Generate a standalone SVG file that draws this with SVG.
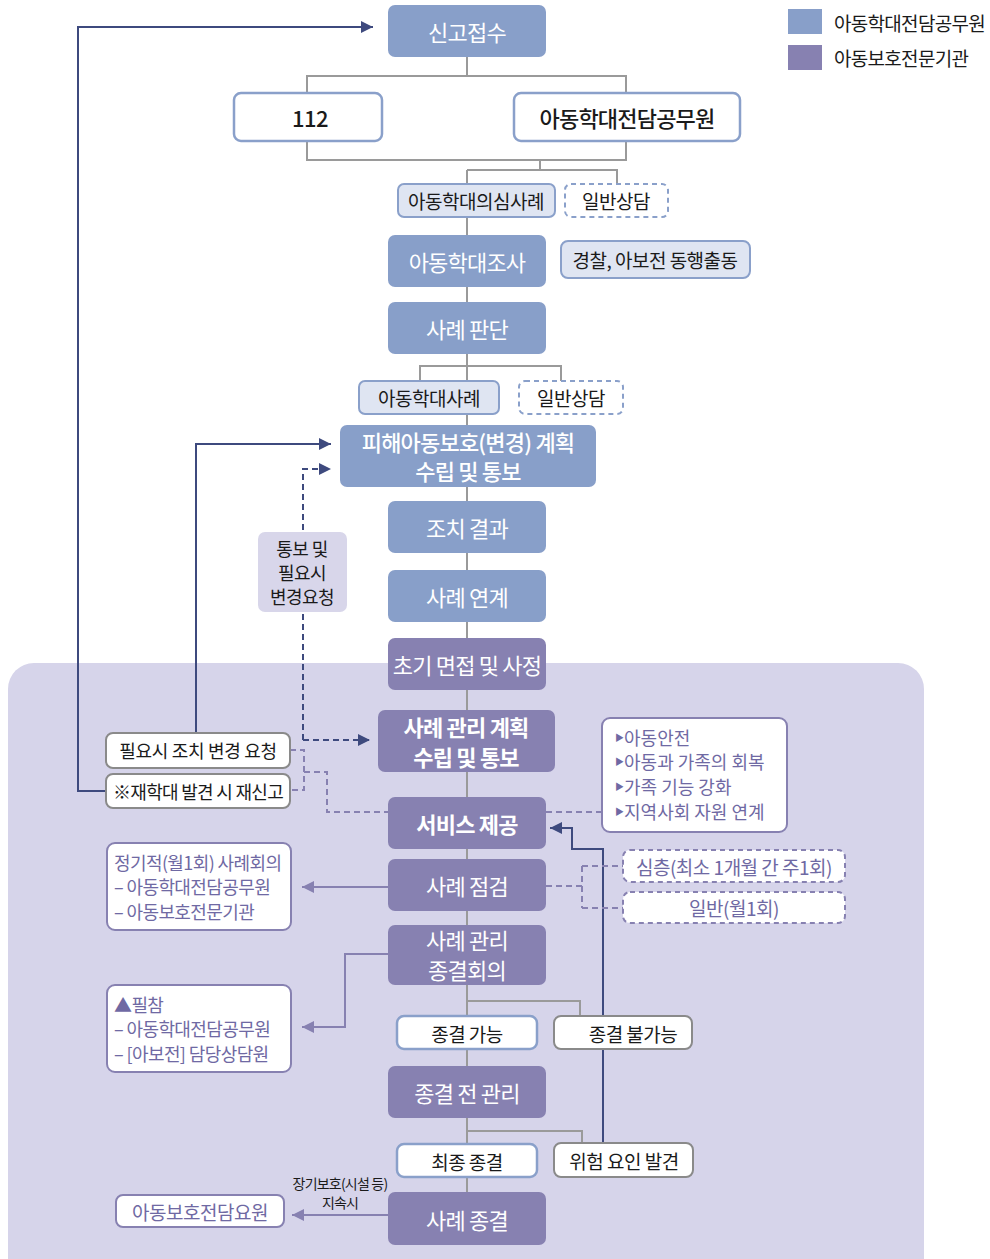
<svg xmlns="http://www.w3.org/2000/svg" width="990" height="1259" viewBox="0 0 990 1259">
<defs>
<style>
text{font-family:"Noto Sans CJK KR","Noto Sans",sans-serif;letter-spacing:-0.5px}
.nb{fill:#889fc9}
.np{fill:#8781b1}
.wt{fill:#fff;font-size:22px;letter-spacing:-0.8px;text-anchor:middle;dominant-baseline:central}
.bk{fill:#1a1a1a;font-size:19px;text-anchor:middle;dominant-baseline:central}
.pt{fill:#6f69a3;font-size:18px;letter-spacing:-0.6px;dominant-baseline:central}
.bu{font-size:9px}
.lb{fill:#dfe5f2;stroke:#8aa0ca;stroke-width:2}
.wb{fill:#fff;stroke:#8aa0ca;stroke-width:2.5}
.wbd{fill:#fff;stroke:#8aa0ca;stroke-width:2;stroke-dasharray:5 4}
.wg{fill:#fff;stroke:#8a8a8a;stroke-width:2}
.wp{fill:#fff;stroke:#8781b1;stroke-width:2}
.wpd{fill:#fff;stroke:#8781b1;stroke-width:2;stroke-dasharray:5 4}
.gl{fill:none;stroke:#9a9a9a;stroke-width:2}
.nv{fill:none;stroke:#3e4a7e;stroke-width:2}
.nvd{fill:none;stroke:#3e4a7e;stroke-width:2;stroke-dasharray:6 4}
.pl{fill:none;stroke:#8781b1;stroke-width:2}
.pld{fill:none;stroke:#8781b1;stroke-width:2;stroke-dasharray:6 4}
</style>
<marker id="an" viewBox="0 0 10 10" refX="10" refY="5" markerWidth="6" markerHeight="6" orient="auto" markerUnits="strokeWidth"><path d="M0,0 L10,5 L0,10 z" fill="#3e4a7e"/></marker>
<marker id="ap" viewBox="0 0 10 10" refX="10" refY="5" markerWidth="6" markerHeight="6" orient="auto" markerUnits="strokeWidth"><path d="M0,0 L10,5 L0,10 z" fill="#8781b1"/></marker>
</defs>

<rect x="8" y="663" width="916" height="640" rx="26" fill="#d6d4ea"/>

<g id="legend">
<rect x="788" y="9" width="34" height="25" fill="#889fc9"/>
<text x="834" y="22" style="fill:#1a1a1a;font-size:19px;letter-spacing:-0.7px;dominant-baseline:central">아동학대전담공무원</text>
<rect x="788" y="45" width="34" height="25" fill="#8781b1"/>
<text x="834" y="57" style="fill:#1a1a1a;font-size:19px;letter-spacing:-0.7px;dominant-baseline:central">아동보호전문기관</text>
</g>

<g id="connectors">
<path class="gl" d="M467,57 V76 M307,93 V76 H626 V93 M307,141 V160 H626 V141 M540,160 V170 M467,170 H617 V184 M467,170 V1192"/>
<path class="gl" d="M467,354 V366 M420,381 V366 H561 V381"/>
<path class="gl" d="M467,1001 H580 V1016 M467,1131 H582 V1143"/>
<path class="nv" d="M603,1143 V849 H572 V828 H550" marker-end="url(#an)"/>
<path class="nv" d="M106,791 H78 V27 H373" marker-end="url(#an)"/>
<path class="nv" d="M196,733 V444 H331" marker-end="url(#an)"/>
<path class="nvd" d="M303,740 V469 H331" marker-end="url(#an)"/>
<path class="nvd" d="M303,740 H370" marker-end="url(#an)"/>
<path class="pld" d="M290,750 H304 V790 H290 M304,772 H327 V812 H388"/>
<path class="pld" d="M546,812 H602"/>
<path class="pld" d="M546,886 H582 M582,866 V908 M582,866 H623 M582,908 H623"/>
<path class="pl" d="M388,887 H302" marker-end="url(#ap)"/>
<path class="pl" d="M388,954 H345 V1027 H302" marker-end="url(#ap)"/>
<path class="pl" d="M388,1215 H292" marker-end="url(#ap)"/>
</g>

<g id="n-singo"><rect class="nb" x="388" y="5" width="158" height="52" rx="7"/><text class="wt" x="467" y="31">신고접수</text></g>
<g id="n-112"><rect class="wb" x="234" y="93" width="148" height="48" rx="7"/><text class="bk" x="310" y="117" style="font-size:22px;font-weight:500">112</text></g>
<g id="n-gongmu"><rect class="wb" x="514" y="93" width="226" height="48" rx="7"/><text class="bk" x="627" y="117" style="font-size:22px;letter-spacing:-0.8px;font-weight:500">아동학대전담공무원</text></g>
<g id="n-uisim"><rect class="lb" x="398" y="184" width="157" height="33" rx="6"/><text class="bk" x="476" y="200">아동학대의심사례</text></g>
<g id="n-ilban1"><rect class="wbd" x="565" y="184" width="103" height="33" rx="6"/><text class="bk" x="616" y="200">일반상담</text></g>
<g id="n-josa"><rect class="nb" x="388" y="235" width="158" height="52" rx="7"/><text class="wt" x="467" y="261">아동학대조사</text></g>
<g id="n-police"><rect class="lb" x="561" y="241" width="189" height="37" rx="7"/><text class="bk" x="655" y="259">경찰, 아보전 동행출동</text></g>
<g id="n-pandan"><rect class="nb" x="388" y="302" width="158" height="52" rx="7"/><text class="wt" x="467" y="328">사례 판단</text></g>
<g id="n-hakdae"><rect class="lb" x="359" y="381" width="140" height="33" rx="6"/><text class="bk" x="429" y="397">아동학대사례</text></g>
<g id="n-ilban2"><rect class="wbd" x="519" y="381" width="104" height="33" rx="6"/><text class="bk" x="571" y="397">일반상담</text></g>
<g id="n-plan1"><rect class="nb" x="340" y="425" width="256" height="62" rx="7"/><text class="wt" x="468" y="441" style="font-weight:500">피해아동보호(변경) 계획</text><text class="wt" x="468" y="470" style="font-weight:500">수립 및 통보</text></g>
<g id="n-jochi"><rect class="nb" x="388" y="501" width="158" height="52" rx="7"/><text class="wt" x="467" y="527">조치 결과</text></g>
<g id="n-yeongye"><rect class="nb" x="388" y="570" width="158" height="52" rx="7"/><text class="wt" x="467" y="596">사례 연계</text></g>
<g id="n-tongbo"><rect x="258" y="532" width="89" height="80" rx="7" fill="#d8d6ea"/><text class="bk" x="302" y="548" style="font-size:18px">통보 및</text><text class="bk" x="302" y="572" style="font-size:18px">필요시</text><text class="bk" x="302" y="596" style="font-size:18px">변경요청</text></g>
<g id="n-chogi"><rect class="np" x="388" y="638" width="158" height="52" rx="7"/><text class="wt" x="467" y="664">초기 면접 및 사정</text></g>
<g id="n-plan2"><rect class="np" x="378" y="710" width="177" height="62" rx="7"/><text class="wt" x="466" y="726" style="font-weight:bold">사례 관리 계획</text><text class="wt" x="466" y="756" style="font-weight:bold">수립 및 통보</text></g>
<g id="n-req1"><rect class="wg" x="106" y="733" width="184" height="35" rx="7"/><text class="bk" x="198" y="750" style="font-size:18px;letter-spacing:-0.3px">필요시 조치 변경 요청</text></g>
<g id="n-req2"><rect class="wg" x="106" y="774" width="184" height="34" rx="7"/><text class="bk" x="198" y="791" style="font-size:18px;letter-spacing:-0.7px">※재학대 발견 시 재신고</text></g>
<g id="n-goals"><rect class="wp" x="602" y="718" width="185" height="114" rx="8"/>
<text class="pt" x="615" y="737" style="letter-spacing:0"><tspan class="bu">▶</tspan>아동안전</text>
<text class="pt" x="615" y="761" style="letter-spacing:0"><tspan class="bu">▶</tspan>아동과 가족의 회복</text>
<text class="pt" x="615" y="786" style="letter-spacing:0"><tspan class="bu">▶</tspan>가족 기능 강화</text>
<text class="pt" x="615" y="811" style="letter-spacing:0"><tspan class="bu">▶</tspan>지역사회 자원 연계</text></g>
<g id="n-service"><rect class="np" x="388" y="797" width="158" height="52" rx="7"/><text class="wt" x="467" y="823" style="font-weight:bold">서비스 제공</text></g>
<g id="n-meeting"><rect class="wp" x="107" y="843" width="184" height="87" rx="8"/>
<text class="pt" x="114" y="862">정기적(월1회) 사례회의</text>
<text class="pt" x="114" y="886">– 아동학대전담공무원</text>
<text class="pt" x="114" y="911">– 아동보호전문기관</text></g>
<g id="n-jeomgeom"><rect class="np" x="388" y="859" width="158" height="52" rx="7"/><text class="wt" x="467" y="885">사례 점검</text></g>
<g id="n-simcheung"><rect class="wpd" x="623" y="850" width="222" height="32" rx="7"/><text class="pt" x="734" y="866" style="text-anchor:middle;font-size:19px;letter-spacing:-0.5px">심층(최소 1개월 간 주1회)</text></g>
<g id="n-ilban3"><rect class="wpd" x="623" y="892" width="222" height="31" rx="7"/><text class="pt" x="734" y="907" style="text-anchor:middle;font-size:19px;letter-spacing:-0.5px">일반(월1회)</text></g>
<g id="n-jonggyeol-meet"><rect class="np" x="388" y="925" width="158" height="60" rx="7"/><text class="wt" x="467" y="939">사례 관리</text><text class="wt" x="467" y="969">종결회의</text></g>
<g id="n-pilcham"><rect class="wp" x="107" y="985" width="184" height="87" rx="8"/>
<text class="pt" x="114" y="1004">▲필참</text>
<text class="pt" x="114" y="1028">– 아동학대전담공무원</text>
<text class="pt" x="114" y="1053">– [아보전] 담당상담원</text></g>
<g id="n-possible"><rect class="wb" x="397" y="1016" width="140" height="33" rx="7"/><text class="bk" x="467" y="1033">종결 가능</text></g>
<g id="n-impossible"><rect class="wg" x="554" y="1016" width="138" height="33" rx="7"/><text class="bk" x="633" y="1033">종결 불가능</text></g>
<g id="n-pre"><rect class="np" x="388" y="1066" width="158" height="52" rx="7"/><text class="wt" x="467" y="1092">종결 전 관리</text></g>
<g id="n-final"><rect class="wb" x="397" y="1144" width="140" height="33" rx="7"/><text class="bk" x="467" y="1161">최종 종결</text></g>
<g id="n-risk"><rect class="wg" x="554" y="1143" width="139" height="34" rx="7"/><text class="bk" x="624" y="1160">위험 요인 발견</text></g>
<g id="n-end"><rect class="np" x="388" y="1192" width="158" height="53" rx="7"/><text class="wt" x="467" y="1219">사례 종결</text></g>
<g id="n-yowon"><rect class="wp" x="116" y="1195" width="168" height="32" rx="7"/><text class="pt" x="200" y="1211" style="text-anchor:middle;font-size:19px;letter-spacing:-0.5px">아동보호전담요원</text></g>
<g id="lbl-long"><text class="bk" x="340" y="1183" style="font-size:14px;letter-spacing:-0.8px">장기보호(시설 등)</text><text class="bk" x="340" y="1202" style="font-size:14px;letter-spacing:-0.8px">지속시</text></g>
</svg>
